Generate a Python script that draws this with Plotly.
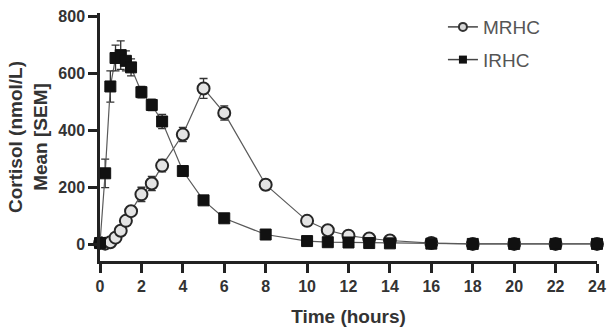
import plotly.graph_objects as go

time_h = [0, 0.25, 0.5, 0.75, 1, 1.25, 1.5, 2, 2.5, 3, 4, 5, 6, 8, 10, 11, 12, 13, 14, 16, 18, 20, 22, 24]
mrhc_mean = [5, 3, 8, 24, 48, 83, 117, 176, 214, 277, 386, 548, 462, 210, 83, 50, 31, 21, 14, 5, 2, 2, 2, 2]
mrhc_sem = [3, 2, 4, 8, 12, 15, 16, 25, 25, 22, 25, 35, 25, 18, 10, 6, 5, 4, 3, 2, 1, 1, 1, 1]
irhc_mean = [5, 250, 555, 655, 665, 645, 622, 535, 490, 432, 258, 155, 92, 35, 12, 8, 7, 5, 4, 3, 2, 2, 2, 2]
irhc_sem = [3, 50, 55, 45, 50, 35, 30, 20, 20, 25, 15, 10, 8, 5, 3, 2, 2, 1, 1, 1, 1, 1, 1, 1]
x_ticks = list(range(0, 25, 2))
y_ticks = [0, 200, 400, 600, 800]

fig = go.Figure()

fig.add_trace(go.Scatter(
    x=time_h, y=mrhc_mean, mode="lines+markers", showlegend=False,
    line=dict(color="#5a5a5a", width=1.2),
    marker=dict(symbol="circle", size=12, color="#e4e4e4", line=dict(color="#262626", width=2)),
    error_y=dict(type="data", array=mrhc_sem, color="#333333", thickness=1.3, width=4),
    cliponaxis=False,
))
fig.add_trace(go.Scatter(
    x=time_h, y=irhc_mean, mode="lines+markers", showlegend=False,
    line=dict(color="#5a5a5a", width=1.2),
    marker=dict(symbol="square", size=11, color="#111111", line=dict(color="#111111", width=1)),
    error_y=dict(type="data", array=irhc_sem, color="#333333", thickness=1.3, width=4),
    cliponaxis=False,
))

# legend entries
fig.add_trace(go.Scatter(
    x=[None], y=[None], mode="lines+markers", name="MRHC", legendgroup="a",
    line=dict(color="#444444", width=1.5),
    marker=dict(symbol="circle", size=8, color="#d8d8d8", line=dict(color="#333333", width=2)),
))
fig.add_trace(go.Scatter(
    x=[None], y=[None], mode="lines+markers", name="IRHC", legendgroup="b",
    line=dict(color="#444444", width=1.5),
    marker=dict(symbol="square", size=8, color="#111111"),
))

fnt = "Liberation Sans, Arial"
fig.update_layout(
    width=610, height=334,
    margin=dict(l=100, r=13, t=8, b=73),
    paper_bgcolor="white", plot_bgcolor="white",
    showlegend=True,
    legend=dict(x=0.69, y=1.02, xanchor="left", yanchor="top",
                font=dict(family=fnt, size=19, color="#555555"),
                tracegroupgap=5, bgcolor="rgba(0,0,0,0)", itemwidth=30),
    xaxis=dict(range=[0, 24], tickvals=x_ticks, ticks="outside", ticklen=9, tickwidth=2.5,
               tickcolor="#222222", showline=True, linecolor="#222222", linewidth=2.5,
               showgrid=False, zeroline=False, automargin=False,
               tickfont=dict(family=fnt, size=16, color="#333333", weight="bold"),
               title=dict(text="<b>Time (hours)</b>", font=dict(family=fnt, size=19, color="#333333"), standoff=16)),
    yaxis=dict(range=[-58, 813], tickvals=y_ticks, ticks="outside", ticklen=9, tickwidth=2.5,
               tickcolor="#222222", showline=True, linecolor="#222222", linewidth=2.5,
               showgrid=False, zeroline=False, automargin=False,
               tickfont=dict(family=fnt, size=16, color="#333333", weight="bold"),
               title=dict(text="<b>Cortisol (nmol/L)<br>Mean [SEM]</b>", font=dict(family=fnt, size=19, color="#333333"), standoff=6)),
)

fig.write_html("out.html")
